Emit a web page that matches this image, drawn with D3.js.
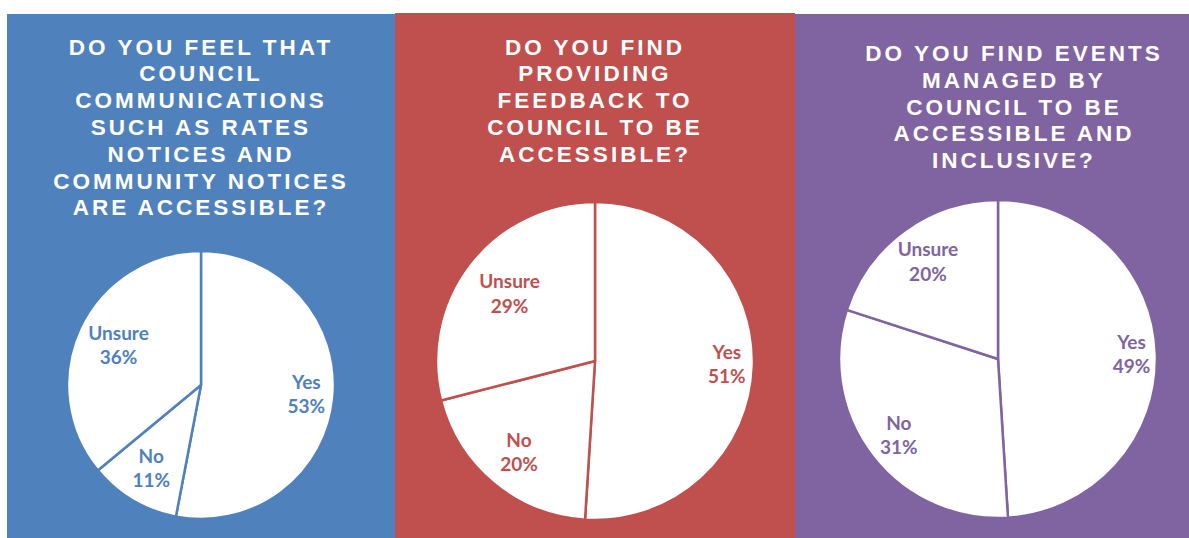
<!DOCTYPE html>
<html>
<head>
<meta charset="utf-8">
<script src="https://cdn.jsdelivr.net/npm/d3@7"></script>
<style>
  html, body { margin: 0; padding: 0; background: #ffffff; }
  svg { display: block; }
</style>
</head>
<body>
<svg id="chart" width="1189" height="538"></svg>
<script>
// Survey answers, one pie per question
const categories = ["Yes", "No", "Unsure"];

const communicationsValues = [53, 11, 36];
const feedbackValues = [51, 20, 29];
const eventsValues = [49, 31, 20];

const communicationsTitle = [
  "DO YOU FEEL THAT",
  "COUNCIL",
  "COMMUNICATIONS",
  "SUCH AS RATES",
  "NOTICES AND",
  "COMMUNITY NOTICES",
  "ARE ACCESSIBLE?"
];
const feedbackTitle = [
  "DO YOU FIND",
  "PROVIDING",
  "FEEDBACK TO",
  "COUNCIL TO BE",
  "ACCESSIBLE?"
];
const eventsTitle = [
  "DO YOU FIND EVENTS",
  "MANAGED BY",
  "COUNCIL TO BE",
  "ACCESSIBLE AND",
  "INCLUSIVE?"
];

// Panel layout: background box, title block, pie placement and label distance per slice
const panels = [
  {
    values: communicationsValues, title: communicationsTitle, color: "#4F81BD",
    box: { x: 7, y: 14, w: 388 }, titleX: 201, titleBaseline: 54.5,
    cx: 201, cy: 385, r: 134,
    labelFrac: { Yes: 0.79, No: 0.73, Unsure: 0.68 }
  },
  {
    values: feedbackValues, title: feedbackTitle, color: "#C0504D",
    box: { x: 395, y: 13, w: 400 }, titleX: 595, titleBaseline: 54.5,
    cx: 595, cy: 361, r: 159,
    labelFrac: { Yes: 0.83, No: 0.75, Unsure: 0.68 }
  },
  {
    values: eventsValues, title: eventsTitle, color: "#8064A2",
    box: { x: 795, y: 14, w: 394 }, titleX: 1014, titleBaseline: 61,
    cx: 998, cy: 359, r: 159,
    labelFrac: { Yes: 0.84, No: 0.79, Unsure: 0.75 }
  }
];

const svg = d3.select("#chart");
const height = 538;
const titleLineHeight = 26.8;
const labelLineHeight = 24.5;

const pie = d3.pie().sort(null).value(d => d.value);

panels.forEach(p => {
  const g = svg.append("g");

  g.append("rect")
    .attr("x", p.box.x)
    .attr("y", p.box.y)
    .attr("width", p.box.w)
    .attr("height", height - p.box.y)
    .attr("fill", p.color);

  // Question title
  const title = g.append("text")
    .attr("x", p.titleX)
    .attr("y", p.titleBaseline)
    .attr("text-anchor", "middle")
    .attr("fill", "#ffffff")
    .style("font-family", "'Liberation Sans', Arial, sans-serif")
    .style("font-weight", "bold")
    .style("font-size", "22.5px")
    .style("letter-spacing", "3px");
  p.title.forEach((line, i) => {
    title.append("tspan")
      .attr("x", p.titleX)
      .attr("y", p.titleBaseline + i * titleLineHeight)
      .text(line);
  });

  // Pie
  const data = categories.map((c, i) => ({ category: c, value: p.values[i] }));
  const arcs = pie(data);
  const arc = d3.arc().innerRadius(0).outerRadius(p.r);

  const pieG = g.append("g").attr("transform", `translate(${p.cx},${p.cy})`);

  pieG.selectAll("path.slice")
    .data(arcs)
    .join("path")
    .attr("class", "slice")
    .attr("d", arc)
    .attr("fill", "#ffffff")
    .attr("stroke", p.color)
    .attr("stroke-width", 2.5)
    .attr("stroke-linejoin", "round");

  // Category and percentage labels inside each slice
  pieG.selectAll("text.label")
    .data(arcs)
    .join("text")
    .attr("class", "label")
    .attr("text-anchor", "middle")
    .attr("fill", p.color)
    .style("font-family", "Lato, 'Open Sans', sans-serif")
    .style("font-weight", "bold")
    .style("font-size", "19px")
    .each(function (d) {
      const lr = p.r * p.labelFrac[d.data.category];
      const [x, y] = d3.arc().innerRadius(lr).outerRadius(lr).centroid(d);
      const t = d3.select(this);
      t.append("tspan")
        .attr("x", x)
        .attr("y", y - labelLineHeight / 2 + 6)
        .text(d.data.category);
      t.append("tspan")
        .attr("x", x)
        .attr("y", y + labelLineHeight / 2 + 6)
        .text(d.data.value + "%");
    });
});
</script>
</body>
</html>
